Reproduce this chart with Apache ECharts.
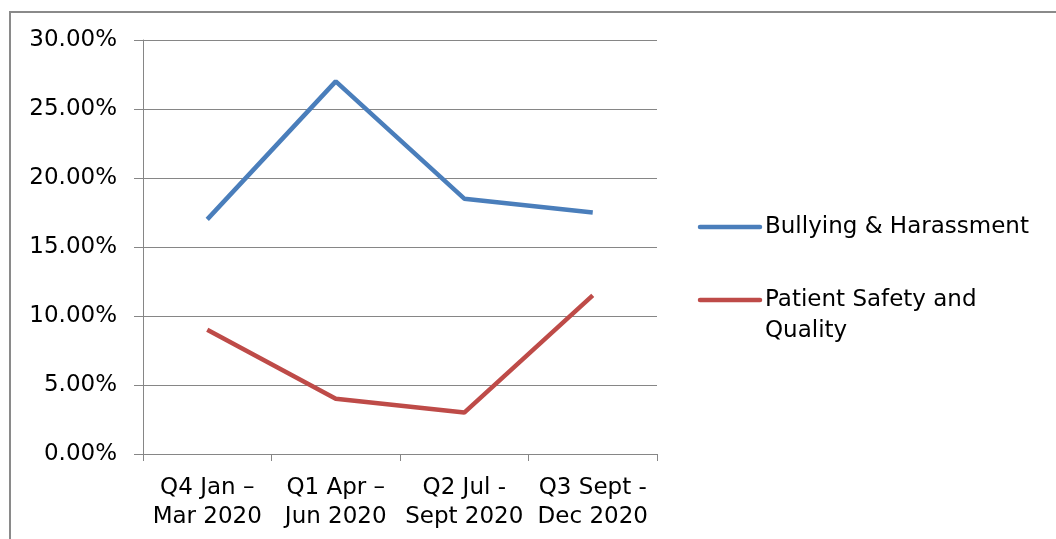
<!DOCTYPE html>
<html><head><meta charset="utf-8">
<script src="https://cdn.jsdelivr.net/npm/echarts@6/dist/echarts.min.js"></script>
<style>
html,body{margin:0;padding:0;background:#fff;}
#frame{position:absolute;left:9px;top:11px;width:1100px;height:600px;border:2px solid #8a8a8a;box-sizing:border-box;}
#c{position:absolute;left:0;top:0;width:1056px;height:539px;}
</style></head>
<body>
<div id="frame"></div>
<div id="c"></div>
<script>
const categories = ['Q4 Jan –\nMar 2020', 'Q1 Apr –\nJun 2020', 'Q2 Jul -\nSept 2020', 'Q3 Sept -\nDec 2020'];
const bullying = [0.170, 0.270, 0.185, 0.175];
const patient = [0.090, 0.040, 0.030, 0.115];
const seriesNames = ['Bullying & Harassment', 'Patient Safety and\nQuality'];
const colors = ['#4A7EBB', '#BE4B48'];

const FONT = '"DejaVu Sans"';
const FS = 23;
const chart = echarts.init(document.getElementById('c'));
chart.setOption({
  animation: false,
  grid: {left: 143, right: 399, top: 40, bottom: 85},
  xAxis: {
    type: 'category', data: categories, boundaryGap: true,
    axisLine: {lineStyle: {color: '#868686', width: 1}},
    axisTick: {show: true, length: 7, lineStyle: {color: '#868686'}},
    axisLabel: {color: '#000', fontFamily: FONT, fontSize: FS, lineHeight: 29, margin: 20, interval: 0}
  },
  yAxis: {
    type: 'value', min: 0, max: 0.30, interval: 0.05,
    axisLine: {show: true, lineStyle: {color: '#868686', width: 1}},
    axisTick: {show: true, length: 9, lineStyle: {color: '#868686'}},
    splitLine: {lineStyle: {color: '#868686', width: 1}},
    axisLabel: {color: '#000', fontFamily: FONT, fontSize: FS, margin: 26,
      formatter: v => (v * 100).toFixed(2) + '%'}
  },
  series: [
    {name: seriesNames[0], type: 'line', data: bullying, symbol: 'none',
     lineStyle: {color: colors[0], width: 4.5}, itemStyle: {color: colors[0]}},
    {name: seriesNames[1], type: 'line', data: patient, symbol: 'none',
     lineStyle: {color: colors[1], width: 4.5}, itemStyle: {color: colors[1]}}
  ],
  graphic: [
    {type: 'line', shape: {x1: 700, y1: 227, x2: 760, y2: 227}, style: {stroke: colors[0], lineWidth: 4.5, lineCap: 'round'}},
    {type: 'text', x: 765, y: 227, style: {text: seriesNames[0], fill: '#000', font: FS + 'px ' + FONT, verticalAlign: 'middle'}},
    {type: 'line', shape: {x1: 700, y1: 300, x2: 760, y2: 300}, style: {stroke: colors[1], lineWidth: 4.5, lineCap: 'round'}},
    {type: 'text', x: 765, y: 285, style: {text: seriesNames[1], fill: '#000', font: FS + 'px ' + FONT, lineHeight: 31, verticalAlign: 'top'}}
  ]
});
</script>
</body></html>
